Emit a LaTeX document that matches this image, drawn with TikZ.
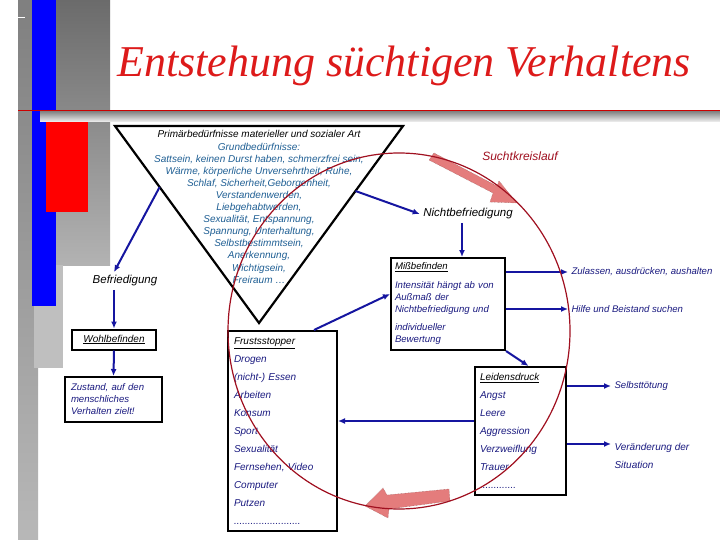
\documentclass[tikz,border=0pt]{standalone}
\usepackage{fontspec}
\usepackage{xcolor}
\usetikzlibrary{arrows.meta,positioning,calc,shapes.geometric}
\newfontfamily\lsans{Liberation Sans}
\newfontfamily\lserif{Liberation Serif}
\definecolor{titlered}{HTML}{DD1A1A}
\definecolor{navytext}{HTML}{1A1A80}
\definecolor{navyline}{HTML}{1515A0}
\definecolor{needblue}{HTML}{1F5F94}
\definecolor{cycred}{HTML}{A01020}
\definecolor{arrowpink}{HTML}{E47C7C}
\definecolor{barblue}{HTML}{0000FF}

\begin{document}
\begin{tikzpicture}[x=1pt, y=-1pt, >=Latex,
  box/.style={draw, line width=2pt, inner sep=0pt},
  flow/.style={-{Latex[length=7pt,width=6pt]}, navyline, line width=2pt},
  listtxt/.style={font=\lsans\itshape\fontsize{10}{18}\selectfont, text=navytext},
  smalltxt/.style={font=\lsans\itshape\fontsize{9.6}{12}\selectfont, text=navytext},
  bigtxt/.style={font=\lsans\itshape\fontsize{11.5}{14}\selectfont}]
  \useasboundingbox (0,0) rectangle (720,540);
  \fill[white] (0,0) rectangle (720,540);
  % left decoration
  \shade[top color=black!58, bottom color=black!30] (18,0) rectangle (110,265);
  \shade[top color=black!50, bottom color=black!28] (18,0) rectangle (38,540);
  \fill[black!25] (34,265) rectangle (63,368);
  \fill[barblue] (32,0) rectangle (56,306);
  \fill[red] (46,122) rectangle (88,212);
  \shade[top color=black!50, bottom color=black!5] (40,111) rectangle (720,122);
  \draw[red!80!black, line width=1.5pt] (18,110.5) -- (720,110.5);
  \draw[white, line width=0.8pt] (18,17) -- (25,17);

  \node[anchor=base, text=titlered, font=\lserif\itshape\fontsize{44}{50}\selectfont] (title) at (404,77) {Entstehung süchtigen Verhaltens};

  \coordinate (tl) at (115,126);
  \coordinate (tr) at (403,126);
  \coordinate (apex) at (259,323);
  \draw[line width=2.2pt, line join=miter] (tl) -- (tr) -- (apex) -- cycle;
  \node[anchor=north, align=center, inner sep=0pt, text=needblue, font=\lsans\itshape\fontsize{10}{12.1}\selectfont] (needs) at (259,130.5)
    {\textcolor{black}{Primärbedürfnisse materieller und sozialer Art}\\
     Grundbedürfnisse:\\
     Sattsein, keinen Durst haben, schmerzfrei sein,\\
     Wärme, körperliche Unversehrtheit, Ruhe,\\
     Schlaf, Sicherheit,Geborgenheit,\\
     Verstandenwerden,\\
     Liebgehabtwerden,\\
     Sexualität, Entspannung,\\
     Spannung, Unterhaltung,\\
     Selbstbestimmtsein,\\
     Anerkennung,\\
     Wichtigsein,\\
     Freiraum \dots};

  \node[bigtxt] (befr) at (125,281) {Befriedigung};
  \node[box, minimum width=84, minimum height=20, font=\lsans\itshape\fontsize{10}{12}\selectfont] (wohl) at (114,339.5) {\underline{Wohlbefinden}};
  \node[box, smalltxt, minimum width=97, minimum height=45, text width=85pt, align=left] (zust) at (113.5,399.5)
    {Zustand, auf den\\menschliches\\Verhalten zielt!};

  \node[bigtxt] (nicht) at (468,214) {Nichtbefriedigung};
  \node[text=cycred, font=\lsans\itshape\fontsize{12}{14}\selectfont] (kreis) at (520,156) {Suchtkreislauf};

  \node[box, smalltxt, anchor=north west, minimum width=114, minimum height=92, text width=106pt, align=left] (miss) at (390,257)
    {\textcolor{black}{\underline{Mißbefinden}}\\[7pt]Intensität hängt ab von\\Außmaß der\\Nichtbefriedigung und\\[6pt]individueller\\Bewertung};

  \node[box, listtxt, anchor=north west, minimum width=109, minimum height=200, text width=97pt, align=left] (frust) at (227,330)
    {\textcolor{black}{\underline{Frustsstopper}}\\Drogen\\(nicht-) Essen\\Arbeiten\\Konsum\\Sport\\Sexualität\\Fernsehen, Video\\Computer\\Putzen\\........................};

  \node[box, listtxt, anchor=north west, minimum width=91, minimum height=128, text width=81pt, align=left] (leid) at (474,366)
    {\textcolor{black}{\underline{Leidensdruck}}\\Angst\\Leere\\Aggression\\Verzweiflung\\Trauer\\.............};

  \node[smalltxt, anchor=west] (zul) at (568,272) {Zulassen, ausdrücken, aushalten};
  \node[smalltxt, anchor=west] (hilfe) at (568,309) {Hilfe und Beistand suchen};
  \node[smalltxt, anchor=west] (selbst) at (611,386) {Selbsttötung};
  \node[listtxt, anchor=north west, align=left] (ver) at (611,440) {Veränderung der\\Situation};

  \coordinate (lw) at ([yshift=10pt]leid.west);
  \coordinate (vw) at ([yshift=-4pt]ver.north west);
  \draw[flow] ($(tl)!0.31!(apex)$) -- (befr.north west -| wohl.north);
  \draw[flow] (befr.south -| wohl.north) -- (wohl.north);
  \draw[flow] (wohl.south) -- (zust.north);
  \draw[flow] ($(tr)!0.33!(apex)$) -- (nicht.west);
  \draw[flow] ([xshift=-6pt]nicht.south) -- ([xshift=-6pt]nicht.south |- miss.north);
  \draw[flow] ([xshift=-24pt]frust.north east) -- ([yshift=10pt]miss.west);
  \draw[flow] (miss.south east) -- ([xshift=8pt]leid.north);
  \draw[flow] (miss.east |- zul.west) -- (zul.west);
  \draw[flow] (miss.east |- hilfe.west) -- (hilfe.west);
  \draw[flow] (lw) -- (lw -| frust.east);
  \draw[flow] (leid.east |- selbst.west) -- (selbst.west);
  \draw[flow] (leid.east |- vw) -- (vw);

  \draw[fill=arrowpink, draw=arrowpink!60!black, densely dotted, line width=0.4pt]
    (434,153) -- (497,186) -- (499,181) -- (517,203) -- (490,202) -- (493,193) -- (429,160) -- cycle;
  \draw[fill=arrowpink, draw=arrowpink!60!black, densely dotted, line width=0.4pt]
    (449,489) -- (387,495) -- (383,488) -- (365,506) -- (388,518) -- (389,509) -- (450,501) -- cycle;
  \draw[cycred, line width=1.2pt] (399,331) ellipse [x radius=171, y radius=178];
\end{tikzpicture}
\end{document}
